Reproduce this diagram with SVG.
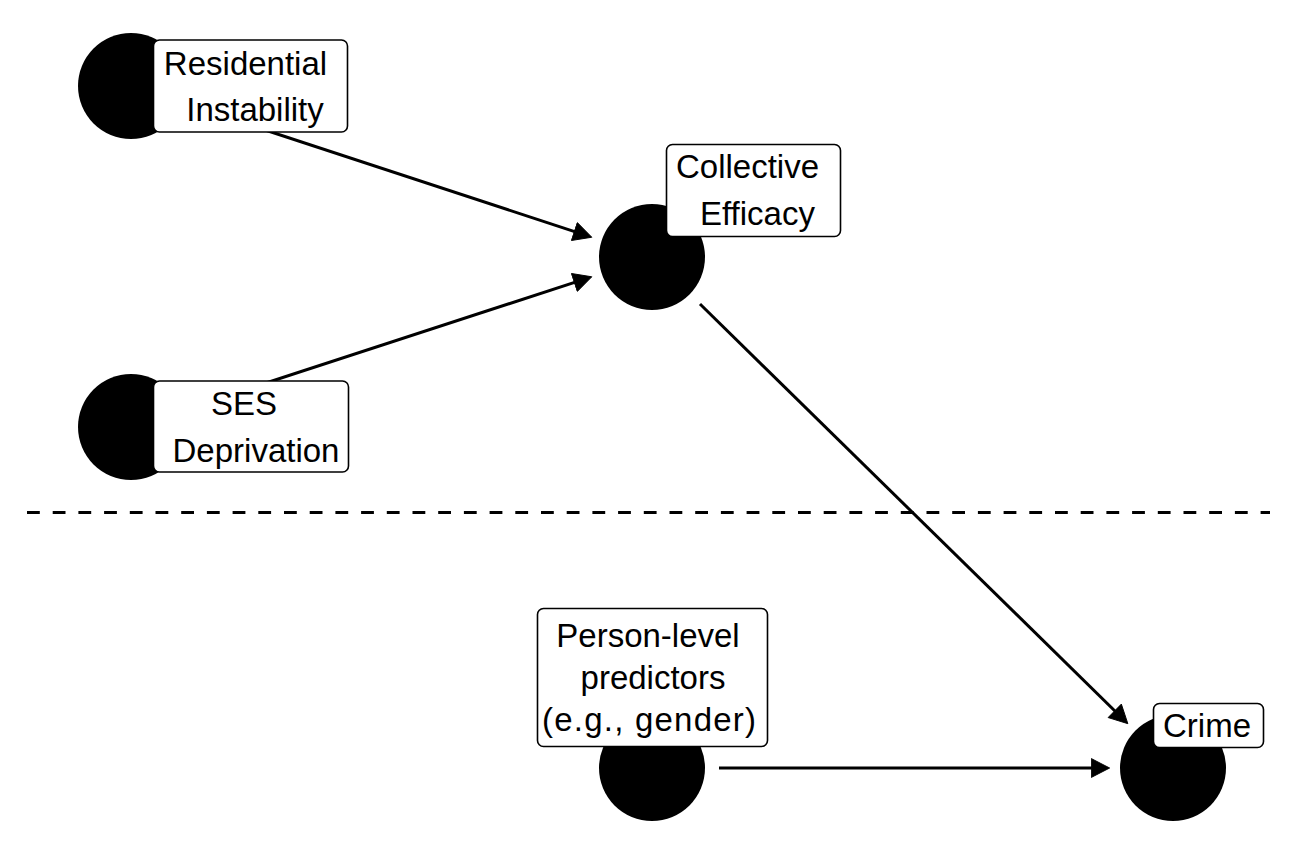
<svg xmlns="http://www.w3.org/2000/svg" width="1296" height="864" viewBox="0 0 1296 864">
<style>
.node{fill:#000}
.lab{fill:#fff;stroke:#000;stroke-width:1.6}
.t{font-family:"Liberation Sans",Arial,sans-serif;font-size:33px;fill:#000;text-anchor:middle}
.edge{stroke:#000;stroke-width:3;fill:none}
</style>
<defs>
<marker id="arr" markerUnits="userSpaceOnUse" markerWidth="20" markerHeight="20" viewBox="0 0 17 18" refX="6" refY="9" orient="auto">
<path d="M0,0.5 L16.5,9 L0,17.5 z" fill="#000" stroke="#000" stroke-width="0.8" stroke-linejoin="round"/>
</marker>
</defs>
<rect width="1296" height="864" fill="#fff"/>
<line x1="27" y1="512.5" x2="1270" y2="512.5" stroke="#000" stroke-width="3" stroke-dasharray="12.8 12.9"/>
<g id="edges">
<path class="edge" d="M192.8,106.3 L580.7,233.6" marker-end="url(#arr)"/>
<path class="edge" d="M192.8,406.8 L580.7,280.4" marker-end="url(#arr)"/>
<path class="edge" d="M700,304 L1119.5,715.5" marker-end="url(#arr)"/>
<path class="edge" d="M719,768 L1098,768" marker-end="url(#arr)"/>
</g>
<g id="residential">
<circle class="node" cx="131" cy="86" r="53"/>
<rect class="lab" x="153.5" y="40" width="194" height="92" rx="6"/>
<text class="t" x="245.5" y="75">Residential</text>
<text class="t" x="255" y="121">Instability</text>
</g>
<g id="ses">
<circle class="node" cx="131" cy="427" r="53"/>
<rect class="lab" x="153.5" y="381" width="195" height="91" rx="6"/>
<text class="t" x="244" y="415">SES</text>
<text class="t" x="256" y="462">Deprivation</text>
</g>
<g id="collective">
<circle class="node" cx="652" cy="257" r="53"/>
<rect class="lab" x="666.5" y="144.5" width="174" height="92" rx="6"/>
<text class="t" x="747.5" y="178">Collective</text>
<text class="t" x="757.5" y="225">Efficacy</text>
</g>
<g id="person">
<circle class="node" cx="652" cy="768" r="53"/>
<rect class="lab" x="537.5" y="608.5" width="230" height="138" rx="6"/>
<text class="t" x="648" y="647">Person-level</text>
<text class="t" x="653" y="689">predictors</text>
<text class="t" x="649" y="731" textLength="214" lengthAdjust="spacing">(e.g., gender)</text>
</g>
<g id="crime">
<circle class="node" cx="1173" cy="768" r="53"/>
<rect class="lab" x="1153.5" y="703.5" width="110" height="44" rx="6"/>
<text class="t" x="1207" y="737">Crime</text>
</g>
</svg>
